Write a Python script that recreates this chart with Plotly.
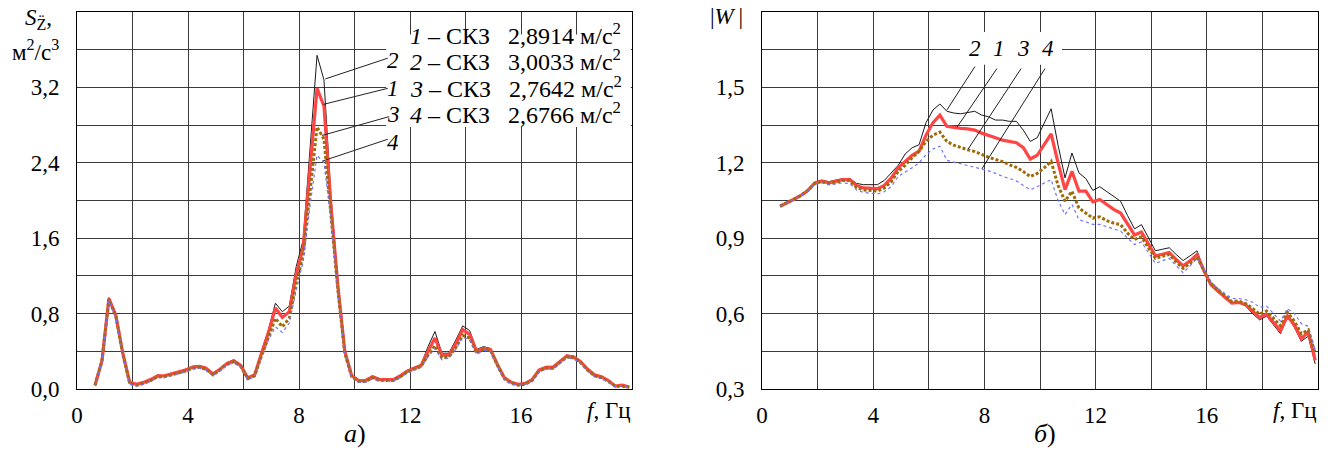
import plotly.graph_objects as go

W, H = 1334, 455

freq = [0.65, 0.9, 1.15, 1.4, 1.65, 1.9, 2.15, 2.4, 2.65, 2.9,
        3.15, 3.4, 3.65, 3.9, 4.15, 4.4, 4.65, 4.9, 5.15, 5.4,
        5.65, 5.9, 6.15, 6.4, 6.65, 6.9, 7.15, 7.4, 7.65, 7.9,
        8.15, 8.4, 8.65, 8.9, 9.15, 9.4, 9.65, 9.9, 10.15, 10.4,
        10.65, 10.9, 11.15, 11.4, 11.65, 11.9, 12.15, 12.4, 12.65, 12.9,
        13.15, 13.4, 13.65, 13.9, 14.15, 14.4, 14.65, 14.9, 15.15, 15.4,
        15.65, 15.9, 16.15, 16.4, 16.65, 16.9, 17.15, 17.4, 17.65, 17.9,
        18.15, 18.4, 18.65, 18.9, 19.15, 19.4, 19.65, 19.9]

# Panel a) spectral density S
sa_1 = [0.04, 0.30, 0.96, 0.78, 0.38, 0.07, 0.05, 0.07, 0.10, 0.14,
        0.14, 0.16, 0.18, 0.20, 0.23, 0.24, 0.22, 0.16, 0.21, 0.27,
        0.30, 0.25, 0.12, 0.15, 0.38, 0.60, 0.86, 0.76, 0.82, 1.22,
        1.50, 2.35, 3.19, 3.00, 1.95, 1.10, 0.40, 0.14, 0.09, 0.09,
        0.13, 0.10, 0.10, 0.10, 0.14, 0.19, 0.22, 0.25, 0.40, 0.54,
        0.36, 0.36, 0.48, 0.63, 0.58, 0.40, 0.43, 0.42, 0.26, 0.12,
        0.07, 0.05, 0.06, 0.10, 0.20, 0.23, 0.23, 0.29, 0.35, 0.34,
        0.29, 0.21, 0.15, 0.13, 0.09, 0.03, 0.04, 0.02]
sa_2 = [0.04, 0.31, 0.97, 0.80, 0.40, 0.07, 0.05, 0.07, 0.10, 0.15,
        0.14, 0.16, 0.18, 0.21, 0.24, 0.25, 0.23, 0.16, 0.22, 0.28,
        0.31, 0.26, 0.12, 0.16, 0.40, 0.63, 0.91, 0.82, 0.88, 1.30,
        1.58, 2.55, 3.54, 3.28, 2.05, 1.15, 0.42, 0.15, 0.10, 0.10,
        0.14, 0.11, 0.11, 0.11, 0.15, 0.20, 0.23, 0.26, 0.45, 0.61,
        0.38, 0.38, 0.52, 0.67, 0.62, 0.42, 0.45, 0.43, 0.27, 0.12,
        0.07, 0.05, 0.06, 0.11, 0.21, 0.24, 0.24, 0.30, 0.36, 0.35,
        0.30, 0.22, 0.15, 0.13, 0.09, 0.03, 0.04, 0.02]
sa_3 = [0.04, 0.30, 0.95, 0.77, 0.37, 0.06, 0.04, 0.06, 0.09, 0.13,
        0.13, 0.15, 0.17, 0.19, 0.22, 0.23, 0.21, 0.15, 0.20, 0.26,
        0.29, 0.24, 0.11, 0.14, 0.35, 0.55, 0.75, 0.66, 0.75, 1.12,
        1.42, 2.10, 2.78, 2.65, 1.88, 1.05, 0.38, 0.13, 0.08, 0.08,
        0.12, 0.09, 0.09, 0.09, 0.13, 0.18, 0.21, 0.24, 0.36, 0.46,
        0.33, 0.34, 0.44, 0.57, 0.54, 0.38, 0.42, 0.41, 0.25, 0.11,
        0.06, 0.04, 0.05, 0.09, 0.19, 0.22, 0.22, 0.28, 0.34, 0.33,
        0.28, 0.20, 0.14, 0.12, 0.08, 0.03, 0.03, 0.02]
sa_4 = [0.03, 0.29, 0.94, 0.76, 0.36, 0.05, 0.03, 0.05, 0.08, 0.12,
        0.12, 0.14, 0.16, 0.18, 0.21, 0.22, 0.20, 0.14, 0.19, 0.25,
        0.28, 0.23, 0.10, 0.13, 0.33, 0.52, 0.66, 0.60, 0.70, 1.05,
        1.35, 1.95, 2.48, 2.40, 1.82, 1.02, 0.37, 0.12, 0.07, 0.07,
        0.11, 0.08, 0.08, 0.08, 0.12, 0.17, 0.20, 0.23, 0.34, 0.43,
        0.31, 0.33, 0.42, 0.55, 0.52, 0.37, 0.41, 0.40, 0.24, 0.10,
        0.05, 0.04, 0.05, 0.08, 0.18, 0.21, 0.21, 0.27, 0.33, 0.32,
        0.27, 0.19, 0.13, 0.11, 0.07, 0.02, 0.03, 0.02]

# Panel b) |W|
wb_1 = [1.027, 1.040, 1.055, 1.070, 1.090, 1.120, 1.128, 1.120, 1.125, 1.133,
        1.133, 1.110, 1.100, 1.100, 1.097, 1.110, 1.140, 1.180, 1.205, 1.230,
        1.246, 1.310, 1.360, 1.390, 1.345, 1.340, 1.337, 1.335, 1.330, 1.318,
        1.310, 1.300, 1.290, 1.285, 1.280, 1.260, 1.215, 1.230, 1.270, 1.315,
        1.200, 1.093, 1.166, 1.087, 1.087, 1.045, 1.054, 1.035, 1.015, 1.000,
        0.955, 0.913, 0.925, 0.880, 0.830, 0.836, 0.843, 0.815, 0.790, 0.810,
        0.835, 0.770, 0.715, 0.690, 0.665, 0.642, 0.645, 0.635, 0.610, 0.585,
        0.598, 0.565, 0.532, 0.590, 0.555, 0.500, 0.527, 0.414]
wb_2 = [1.027, 1.040, 1.055, 1.070, 1.090, 1.122, 1.130, 1.125, 1.130, 1.137,
        1.138, 1.118, 1.113, 1.113, 1.113, 1.130, 1.160, 1.190, 1.235, 1.260,
        1.272, 1.360, 1.410, 1.434, 1.405, 1.398, 1.395, 1.400, 1.405, 1.390,
        1.383, 1.370, 1.370, 1.365, 1.365, 1.330, 1.285, 1.300, 1.360, 1.415,
        1.270, 1.140, 1.239, 1.160, 1.137, 1.090, 1.105, 1.085, 1.065, 1.047,
        0.990, 0.937, 0.954, 0.900, 0.850, 0.856, 0.862, 0.835, 0.811, 0.830,
        0.850, 0.770, 0.710, 0.685, 0.660, 0.640, 0.643, 0.630, 0.600, 0.575,
        0.590, 0.555, 0.520, 0.590, 0.545, 0.490, 0.510, 0.400]
wb_3 = [1.027, 1.040, 1.055, 1.070, 1.090, 1.118, 1.126, 1.118, 1.122, 1.130,
        1.130, 1.102, 1.092, 1.090, 1.087, 1.100, 1.125, 1.166, 1.190, 1.220,
        1.246, 1.285, 1.310, 1.322, 1.285, 1.270, 1.260, 1.252, 1.245, 1.232,
        1.222, 1.213, 1.205, 1.192, 1.182, 1.165, 1.145, 1.158, 1.180, 1.206,
        1.110, 1.047, 1.087, 1.020, 1.000, 0.980, 0.985, 0.970, 0.960, 0.954,
        0.920, 0.895, 0.905, 0.860, 0.820, 0.828, 0.835, 0.805, 0.780, 0.800,
        0.825, 0.770, 0.720, 0.695, 0.670, 0.648, 0.650, 0.640, 0.620, 0.598,
        0.610, 0.580, 0.552, 0.605, 0.570, 0.520, 0.535, 0.440]
wb_4 = [1.027, 1.040, 1.055, 1.070, 1.088, 1.115, 1.120, 1.112, 1.115, 1.120,
        1.118, 1.092, 1.082, 1.080, 1.076, 1.085, 1.105, 1.146, 1.162, 1.180,
        1.200, 1.232, 1.255, 1.266, 1.210, 1.203, 1.198, 1.190, 1.184, 1.176,
        1.168, 1.158, 1.146, 1.138, 1.128, 1.110, 1.093, 1.105, 1.120, 1.133,
        1.050, 0.994, 1.034, 0.974, 0.965, 0.955, 0.955, 0.945, 0.935, 0.928,
        0.900, 0.875, 0.885, 0.840, 0.800, 0.810, 0.820, 0.790, 0.763, 0.790,
        0.820, 0.775, 0.725, 0.700, 0.680, 0.660, 0.660, 0.655, 0.645, 0.625,
        0.630, 0.600, 0.570, 0.620, 0.600, 0.560, 0.550, 0.455]

legend_text = [("1", "2,8914"), ("2", "3,0033"), ("3", "2,7642"), ("4", "2,6766")]

x_ticks = [0, 2, 4, 6, 8, 10, 12, 14, 16, 18, 20]
x_text = ["0", " ", "4", " ", "8", " ", "12", " ", "16", " ", " "]
ya_ticks = [0, 0.4, 0.8, 1.2, 1.6, 2.0, 2.4, 2.8, 3.2, 3.6, 4.0]
ya_text = ["0,0", " ", "0,8", " ", "1,6", " ", "2,4", " ", "3,2", " ", " "]
yb_ticks = [0.3, 0.45, 0.6, 0.75, 0.9, 1.05, 1.2, 1.35, 1.5, 1.65, 1.8]
yb_text = ["0,3", " ", "0,6", " ", "0,9", " ", "1,2", " ", "1,5", " ", " "]

FONT = "Liberation Serif"
NB = "\u00a0"

def px(xp):
    return xp / W

def py(yp):
    return 1 - yp / H

styles = {
    "2": dict(color="#1a1a1a", width=1),
    "1": dict(color="#ff4545", width=3.2),
    "3": dict(color="#a06a08", width=3, dash="3px,2px"),
    "4": dict(color="#7272ff", width=1.2, dash="dot"),
}

fig = go.Figure()
for key, ya, yb in [("2", sa_2, wb_2), ("1", sa_1, wb_1), ("3", sa_3, wb_3), ("4", sa_4, wb_4)]:
    fig.add_trace(go.Scatter(x=freq, y=ya, mode="lines", line=styles[key], xaxis="x", yaxis="y",
                             showlegend=False, hoverinfo="skip"))
    fig.add_trace(go.Scatter(x=freq, y=yb, mode="lines", line=styles[key], xaxis="x2", yaxis="y2",
                             showlegend=False, hoverinfo="skip"))

axis_common = dict(showline=True, linecolor="black", linewidth=1, mirror=True,
                   showgrid=True, gridcolor="#3a3a3a", gridwidth=1, zeroline=False,
                   automargin=False,
                   ticks="", tickfont=dict(family=FONT, size=23, color="black"))

ytop = py(12)
ybot = py(389)
fig.update_layout(
    template="none",
    width=W, height=H, margin=dict(l=0, r=0, t=0, b=0, pad=0), autosize=False,
    paper_bgcolor="white", plot_bgcolor="white",
    xaxis=dict(domain=[px(77), px(632)], range=[0, 20], tickvals=x_ticks, ticktext=x_text,
               anchor="y", ticklabelstandoff=5, **axis_common),
    yaxis=dict(domain=[ybot, ytop], range=[0, 4.0], tickvals=ya_ticks, ticktext=ya_text,
               anchor="x", ticklabelstandoff=12, **axis_common),
    xaxis2=dict(domain=[px(762), px(1318)], range=[0, 20], tickvals=x_ticks, ticktext=x_text,
                anchor="y2", ticklabelstandoff=5, **axis_common),
    yaxis2=dict(domain=[ybot, ytop], range=[0.3, 1.8], tickvals=yb_ticks, ticktext=yb_text,
                anchor="x2", ticklabelstandoff=12, **axis_common),
)

shapes = []
# white boxes behind the in-plot texts
shapes.append(dict(type="rect", xref="x", yref="y", x0=11.14, x1=19.96, y0=2.78, y1=3.76,
                   fillcolor="white", line=dict(width=0), layer="above"))
shapes.append(dict(type="rect", xref="x2", yref="y2", x0=7.12, x1=10.79, y0=1.59, y1=1.72,
                   fillcolor="white", line=dict(width=0), layer="above"))
# leader lines panel a
for (x0, y0, x1, y1) in [(11.2, 3.51, 8.95, 3.29), (11.2, 3.19, 8.88, 3.02),
                          (11.25, 2.89, 8.83, 2.69), (11.2, 2.65, 8.86, 2.42)]:
    shapes.append(dict(type="line", xref="x", yref="y", x0=x0, y0=y0, x1=x1, y1=y1,
                       line=dict(color="#222", width=1), layer="above"))
# leader lines panel b
for (x0, y0, x1, y1) in [(7.66, 1.583, 6.65, 1.41), (8.45, 1.575, 7.01, 1.341),
                          (9.32, 1.575, 7.41, 1.254), (10.18, 1.575, 7.91, 1.176)]:
    shapes.append(dict(type="line", xref="x2", yref="y2", x0=x0, y0=y0, x1=x1, y1=y1,
                       line=dict(color="#222", width=1), layer="above"))
fig.update_layout(shapes=shapes)

def txt(x, y, text, size=23, xanchor="center", xref="paper", yref="paper"):
    return dict(xref=xref, yref=yref, x=x, y=y, text=text, showarrow=False,
                xanchor=xanchor, yanchor="middle",
                font=dict(family=FONT, size=size, color="black"))

ann = []
# numbers near leader lines (panel a)
for lab, yv in [("2", 3.49), ("1", 3.19), ("3", 2.91), ("4", 2.62)]:
    ann.append(txt(11.39, yv, f"<i>{lab}</i>", xref="x", yref="y"))
# legend lines
for i, (n, v) in enumerate(legend_text):
    ann.append(txt(px(408), py(34 + 26.3 * i),
                   f"<i>{n}</i>{NB}–{NB}СКЗ{NB}{NB}{NB}{v}{NB}м/с<sup>2</sup>", size=24, xanchor="left"))
# numbers panel b
for lab, xv in [("2", 7.66), ("1", 8.53), ("3", 9.42), ("4", 10.29)]:
    ann.append(txt(xv, 1.655, f"<i>{lab}</i>", xref="x2", yref="y2"))
# axis titles
ann.append(txt(px(38), py(19), "<i>S</i><sub>Z\u0308</sub>,"))
ann.append(txt(px(35), py(50), "м<sup>2</sup>/с<sup>3</sup>"))
ann.append(txt(px(726), py(17), "|<i>W</i>\u2009|"))
# frequency labels
ann.append(txt(px(633), py(410), f"<i>f</i>,{NB}Гц", xanchor="right"))
ann.append(txt(px(1319), py(410), f"<i>f</i>,{NB}Гц", xanchor="right"))
# captions
ann.append(txt(px(355), py(433), "<i>а</i>)", size=26))
ann.append(txt(px(1045), py(433), "<i>б</i>)", size=26))
fig.update_layout(annotations=ann)

fig.write_html("out.html")
